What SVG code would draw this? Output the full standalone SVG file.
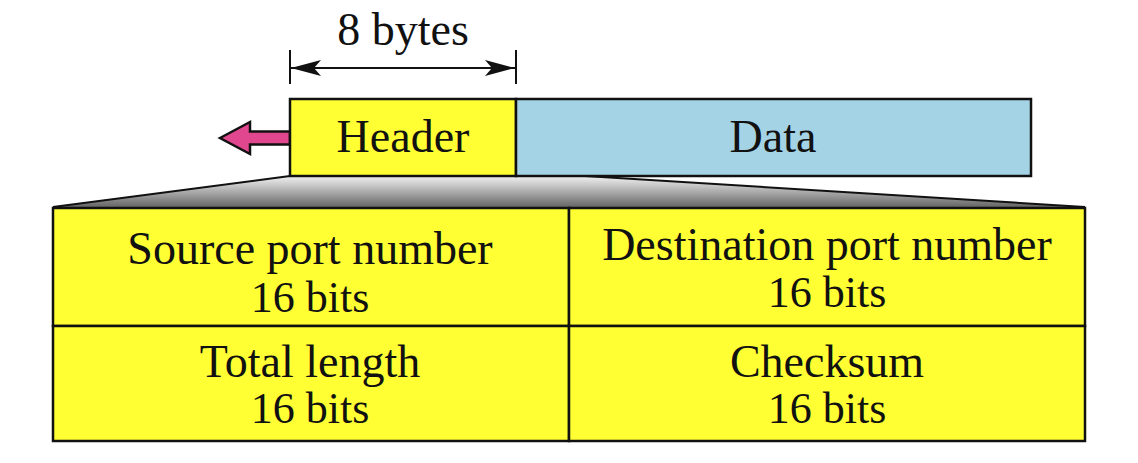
<svg xmlns="http://www.w3.org/2000/svg" width="1138" height="463" viewBox="0 0 1138 463">
  <defs>
    <style>
      .t { font-family: "Liberation Serif", "Times New Roman", serif; font-size: 46px; fill: #111; text-anchor: middle; }
      .n { font-size: 44px; }
      .box { stroke: #111; stroke-width: 2.5; }
      .yellow { fill: #FFFF33; }
      .blue { fill: #A4D3E6; }
      .ln { stroke: #111; stroke-width: 2; fill: none; }
    </style>
    <linearGradient id="shade" x1="0" y1="0" x2="0" y2="1">
      <stop offset="0" stop-color="#f2f2f2"/>
      <stop offset="1" stop-color="#666666"/>
    </linearGradient>
    <marker id="ah" viewBox="0 0 30 16" refX="30" refY="8" markerWidth="30" markerHeight="16" markerUnits="userSpaceOnUse" orient="auto-start-reverse">
      <path d="M0,0 L30,8 L0,16 L7,8 Z" fill="#111"/>
    </marker>
  </defs>
  <rect width="1138" height="463" fill="#ffffff"/>

  <g id="expansion">
    <path d="M290,176 L53,207 L1085,207 L585,176 Z" fill="url(#shade)"/>
    <path d="M290,176 L53,207" class="ln"/>
    <path d="M585,176 L1085,207" class="ln"/>
  </g>

  <g id="dimension">
    <line x1="290" y1="50" x2="290" y2="84" class="ln"/>
    <line x1="516" y1="50" x2="516" y2="84" class="ln"/>
    <line x1="291" y1="68" x2="515" y2="68" class="ln" marker-start="url(#ah)" marker-end="url(#ah)"/>
    <text class="t" x="403" y="45">8 bytes</text>
  </g>

  <g id="direction-arrow">
    <path d="M220,138 L250,122 L250,131.5 L290,131.5 L290,144.5 L250,144.5 L250,154 Z" fill="#E0478E" stroke="#111" stroke-width="2.5" stroke-linejoin="miter"/>
  </g>

  <g id="header">
    <rect x="290" y="99" width="226" height="77" class="box yellow"/>
    <text class="t" x="403" y="152">Header</text>
  </g>

  <g id="data">
    <rect x="516" y="99" width="515" height="77" class="box blue"/>
    <text class="t" x="773" y="152">Data</text>
  </g>

  <g id="source-port">
    <rect x="53" y="208" width="516" height="118" class="box yellow"/>
    <text class="t" x="310" y="264">Source port number</text>
    <text class="t n" x="310" y="312">16 bits</text>
  </g>

  <g id="destination-port">
    <rect x="569" y="208" width="516" height="118" class="box yellow"/>
    <text class="t" x="827" y="260">Destination port number</text>
    <text class="t n" x="827" y="307">16 bits</text>
  </g>

  <g id="total-length">
    <rect x="53" y="326" width="516" height="115" class="box yellow"/>
    <text class="t" x="310" y="377">Total length</text>
    <text class="t n" x="310" y="423">16 bits</text>
  </g>

  <g id="checksum">
    <rect x="569" y="326" width="516" height="115" class="box yellow"/>
    <text class="t" x="827" y="377">Checksum</text>
    <text class="t n" x="827" y="423">16 bits</text>
  </g>
</svg>
